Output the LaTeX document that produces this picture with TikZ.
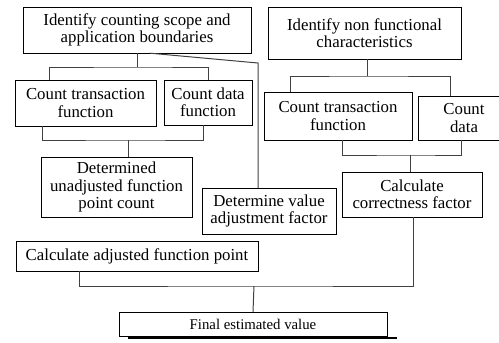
\documentclass[tikz,border=0pt]{standalone}
\usepackage{fontspec}
\setmainfont{Liberation Serif}
\usepackage{tikz}
\usetikzlibrary{positioning,calc}

\begin{document}
\begin{tikzpicture}[x=1pt, y=-1pt,
  every node/.style={rectangle, draw, fill=white, align=center, inner sep=0pt,
    font=\fontsize{16.8}{17.5}\selectfont},
  link/.style={draw=black!75, line width=1pt}]
  \useasboundingbox (0,0) rectangle (499,343);
  % top level
  \node[minimum width=228pt, minimum height=46pt] (scope) at (137,30)
    {Identify counting scope and\\application boundaries};
  \node[minimum width=193pt, minimum height=52pt] (nonfun) at (364.5,33)
    {Identify non functional\\characteristics};
  % left branch
  \node[minimum width=141pt, minimum height=46pt] (ctf) at (85.5,103)
    {Count transaction\\function};
  \node[minimum width=88pt, minimum height=45pt] (cdf) at (208,102.5)
    {Count data\\function};
  \node[minimum width=151pt, minimum height=60pt] (ufp) at (116.5,187)
    {Determined\\unadjusted function\\point count};
  \node[minimum width=134pt, minimum height=46pt] (vaf) at (269,211)
    {Determine value\\adjustment factor};
  \node[minimum width=242pt, minimum height=30pt] (afp) at (137,256)
    {Calculate adjusted function point};
  % right branch
  \node[minimum width=148pt, minimum height=48pt] (rctf) at (338,116)
    {Count transaction\\function};
  \node[minimum width=92pt, minimum height=44pt] (rcd) at (464,118)
    {Count\\data};
  \node[minimum width=140pt, minimum height=45pt] (corr) at (412,194.5)
    {Calculate\\correctness factor};
  % result
  \node[minimum width=268pt, minimum height=24pt,
    font=\fontsize{14.8}{16}\selectfont] (final) at (253,324) {Final estimated value};
  \draw[line width=2.5pt] (128,338) -- (397,338);

  \coordinate (busA) at (137,67);
  \coordinate (bendA) at (258,63);
  \coordinate (busC) at (128,140);
  \coordinate (busB) at (367,76);
  \coordinate (busG) at (410,155);
  \coordinate (busF) at (254,286);

  \draw[link] (scope.south) -- (busA);
  \draw[link] ([xshift=-36.5pt]ctf.north) |- (busA) -| (cdf.north);
  \draw[link] ([xshift=13pt]scope.south) -- (bendA) -- (bendA |- vaf.north);
  \draw[link] ([xshift=-43.5pt]ctf.south) |- (busC) -| ([xshift=-5pt]cdf.south);
  \draw[link] (busC) -- (busC |- ufp.north);
  \draw[link] ([xshift=2.5pt]nonfun.south) -- ([xshift=2.5pt]nonfun.south |- busB);
  \draw[link] ([xshift=-48pt]rctf.north) |- (busB) -| ([xshift=-14pt]rcd.north);
  \draw[link] ([xshift=4pt]rctf.south) |- (busG) -| ([xshift=-3pt]rcd.south);
  \draw[link] (busG) -- (busG |- corr.north);
  \draw[link] ([xshift=-58pt]afp.south) |- (busF) -| ([xshift=1pt]corr.south);
  \draw[link] (busF) -- (final.north);
\end{tikzpicture}
\end{document}
